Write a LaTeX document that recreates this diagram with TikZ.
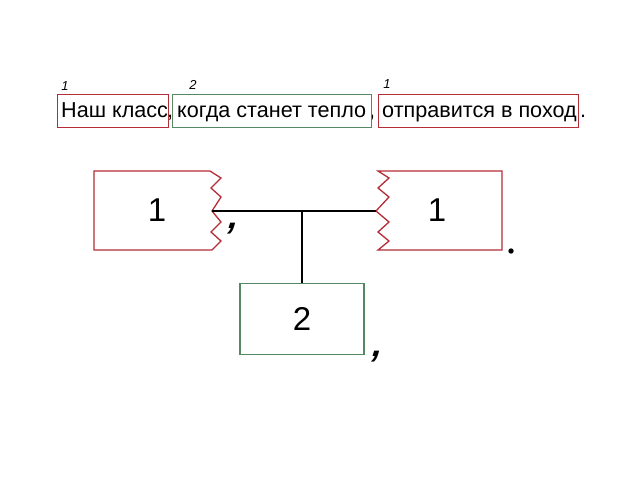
\documentclass[tikz,border=0pt]{standalone}
\usepackage{fontspec}
\setmainfont{Liberation Sans}
\definecolor{boxred}{RGB}{180,45,55}
\definecolor{boxgreen}{RGB}{85,135,100}
\begin{document}
\begin{tikzpicture}[x=1pt,y=-1pt,
  txt/.style={font=\fontsize{21.6}{23}\selectfont, inner sep=0pt, anchor=base west},
  idx/.style={font=\fontsize{13}{14}\selectfont\itshape, inner sep=0pt},
  big/.style={font=\fontsize{33}{36}\selectfont, inner sep=0pt},
  redline/.style={draw=boxred, line width=1.3pt},
  greenline/.style={draw=boxgreen, line width=1.3pt},
  conn/.style={draw=black, line width=1.7pt},
  punct/.style={font=\fontsize{36}{38}\selectfont\bfseries, inner sep=0pt}]
\useasboundingbox (0,0) rectangle (640,480);
\fill[white] (0,0) rectangle (640,480);
% --- sentence ---
\node[txt] (t1) at (61,117) {Наш класс};
\node[txt] (c1) at (167,117) {,};
\node[txt] (t2) at (177,117) {когда станет тепло};
\node[txt] (c2) at (369,117) {,};
\node[txt] (t3) at (382,117) {отправится в поход};
\node[txt] (p1) at (580,117) {.};
\draw[redline, line width=1pt] (57,94) rectangle (168,127);
\draw[greenline, line width=1pt] (172,94) rectangle (371,127);
\draw[redline, line width=1pt] (378,94) rectangle (578,127);
\node[idx] (n1) at (65,86) {1};
\node[idx] (n2) at (193,85) {2};
\node[idx] (n3) at (387,84) {1};
% --- scheme ---
\draw[redline] (210,171) -- (221,178) -- (211,188) -- (221,197) -- (212,211)
  -- (221,222) -- (211,232) -- (221,241) -- (212,250) -- (94,250) -- (94,171) -- cycle;
\draw[redline] (502,171) -- (378,171) -- (389,178) -- (378,188) -- (389,197) -- (376,211)
  -- (389,222) -- (378,232) -- (389,241) -- (378,250) -- (502,250) -- cycle;
\coordinate (lj) at (212,211);
\coordinate (rj) at (376,211);
\coordinate (mj) at (302,211);
\node[big] (b1) at (157,210) {1};
\node[big] (b3) at (437,210) {1};
\node[greenline, draw, minimum width=124pt, minimum height=71pt, inner sep=0pt] (b2) at (302,319) {};
\node[big] at (b2.center) {2};
\draw[conn] (lj) -- (rj);
\draw[conn] (mj) -- (b2.north);
\node[punct, xslant=0.3] (k1) at (231,229) {,};
\node[punct, xslant=0.3] (k2) at (375,357) {,};
\fill (511,251) circle (2.7pt);
\end{tikzpicture}
\end{document}
